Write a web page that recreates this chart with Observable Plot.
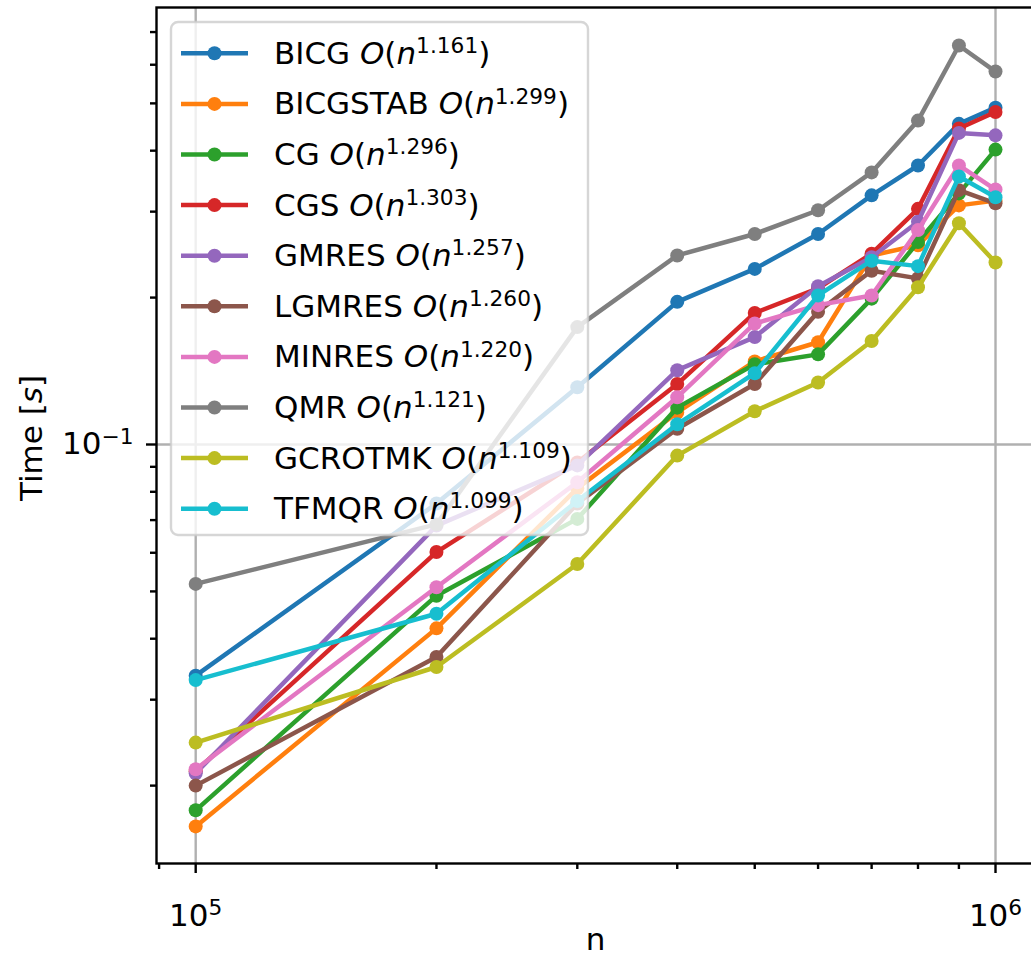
<!DOCTYPE html>
<html><head><meta charset="utf-8">
<script src="https://cdn.jsdelivr.net/npm/d3@7"></script>
<script src="https://cdn.jsdelivr.net/npm/@observablehq/plot@0.6"></script>
<style>
html,body{margin:0;padding:0;overflow:hidden;background:#fff;}
#wrap{position:relative;width:1031px;height:957px;overflow:hidden;}
#wrap svg.plot{position:absolute;left:0;top:0;max-width:none !important;}
#legend{position:absolute;left:0;top:0;pointer-events:none;}
</style></head><body><div id="wrap"></div>
<script>
// ---- data ----
const n = [1e5, 2e5, 3e5, 4e5, 5e5, 6e5, 7e5, 8e5, 9e5, 1e6];
const solvers = ["BICG", "BICGSTAB", "CG", "CGS", "GMRES", "LGMRES", "MINRES", "QMR", "GCROTMK", "TFMQR"];
const exponents = ["1.161", "1.299", "1.296", "1.303", "1.257", "1.260", "1.220", "1.121", "1.109", "1.099"];
const colors = ["#1f77b4", "#ff7f0e", "#2ca02c", "#d62728", "#9467bd", "#8c564b", "#e377c2", "#7f7f7f", "#bcbd22", "#17becf"];

const tBICG     = [0.0336, 0.0757, 0.131, 0.196, 0.229, 0.270, 0.324, 0.373, 0.454, 0.490];
const tBICGSTAB = [0.0165, 0.0420, 0.0813, 0.1163, 0.148, 0.162, 0.244, 0.256, 0.309, 0.316];
const tCG       = [0.0178, 0.0490, 0.0704, 0.119, 0.146, 0.153, 0.199, 0.260, 0.327, 0.402];
const tCGS      = [0.0214, 0.0602, 0.0919, 0.133, 0.186, 0.209, 0.246, 0.304, 0.444, 0.480];
const tGMRES    = [0.0212, 0.0682, 0.0906, 0.142, 0.166, 0.211, 0.242, 0.286, 0.435, 0.430];
const tLGMRES   = [0.0200, 0.0367, 0.0757, 0.1077, 0.133, 0.187, 0.227, 0.219, 0.332, 0.312];
const tMINRES   = [0.0216, 0.0510, 0.0837, 0.125, 0.177, 0.193, 0.202, 0.275, 0.373, 0.333];
const tQMR      = [0.0518, 0.0686, 0.174, 0.244, 0.270, 0.302, 0.361, 0.461, 0.657, 0.581];
const tGCROTMK  = [0.0245, 0.0350, 0.0569, 0.0949, 0.117, 0.134, 0.163, 0.210, 0.284, 0.236];
const tTFMQR    = [0.0329, 0.0450, 0.0766, 0.110, 0.140, 0.202, 0.238, 0.232, 0.354, 0.321];

const times = [tBICG, tBICGSTAB, tCG, tCGS, tGMRES, tLGMRES, tMINRES, tQMR, tGCROTMK, tTFMQR];

const xMajor = [1e5, 1e6];
const xMinor = [9e4, 2e5, 3e5, 4e5, 5e5, 6e5, 7e5, 8e5, 9e5];
const yMajor = [0.1];
const yMinor = [0.02, 0.03, 0.04, 0.05, 0.06, 0.07, 0.08, 0.09, 0.2, 0.3, 0.4, 0.5, 0.6, 0.7];
const xTickText = {100000: "10^5", 1000000: "10^6"};
const yTickText = {0.1: "10^\u22121"};

// ---- table ----
const table = solvers.flatMap((s, i) => n.map((x, j) => ({solver: s, n: x, t: times[i][j]})));

const seriesMarks = solvers.flatMap((s, i) => {
  const d = table.filter(r => r.solver === s);
  return [
    Plot.line(d, {x: "n", y: "t", stroke: colors[i], strokeWidth: 4.5}),
    Plot.dot(d, {x: "n", y: "t", fill: colors[i], r: 7})
  ];
});

const gridStyle = {stroke: "#b0b0b0", strokeOpacity: 1, strokeWidth: 2.4};
const FS = "31px";

const chart = Plot.plot({
  width: 1040, height: 957,
  marginLeft: 156, marginRight: 5, marginTop: 7, marginBottom: 94,
  style: {fontFamily: "DejaVu Sans, sans-serif", fontSize: FS, color: "#000", background: "#fff", overflow: "visible", maxWidth: "none"},
  x: {type: "log", domain: [Math.pow(10, 4.951), Math.pow(10, 6.05)]},
  y: {type: "log", domain: [0.01385, 0.786]},
  marks: [
    Plot.gridX(xMajor, gridStyle),
    Plot.gridY(yMajor, gridStyle),
    ...seriesMarks,
    Plot.axisX(xMinor, {tickSize: 6, strokeWidth: 2.4, tickFormat: () => "", label: null}),
    Plot.axisX(xMajor, {tickSize: 10, tickPadding: 30, strokeWidth: 2.4, tickFormat: d => xTickText[d], label: null}),
    Plot.axisY(yMinor, {tickSize: 6, strokeWidth: 2.4, tickFormat: () => "", label: null}),
    Plot.axisY(yMajor, {tickSize: 10, tickPadding: 13, strokeWidth: 2.4, tickFormat: d => yTickText[d], label: null}),
    Plot.frame({stroke: "#000", strokeWidth: 2.4})
  ]
});
chart.classList.add("plot");
chart.style.maxWidth = "none";
document.getElementById("wrap").appendChild(chart);

// superscripts in tick labels
const svg = d3.select(chart);
svg.selectAll("text").each(function() {
  const m = (this.textContent || "").match(/^10\^(.+)$/);
  if (m) {
    const sel = d3.select(this);
    sel.text("10");
    sel.append("tspan").attr("font-size", "0.7em").attr("dy", "-0.5em").text(m[1]);
  }
});

// axis titles
const yl = svg.append("text")
  .attr("transform", "translate(42,438) rotate(-90)")
  .attr("text-anchor", "middle")
  .attr("fill", "#000");
yl.append("tspan").text("Time [");
yl.append("tspan").attr("font-style", "italic").text("s");
yl.append("tspan").text("]");
svg.append("text")
  .attr("x", 595.5).attr("y", 950)
  .attr("text-anchor", "middle")
  .attr("fill", "#000")
  .text("n");

// legend overlay
const leg = d3.select("#wrap").append("svg")
  .attr("id", "legend")
  .attr("width", 1031).attr("height", 957)
  .style("font-family", "DejaVu Sans, sans-serif")
  .style("font-size", FS);
leg.append("rect")
  .attr("x", 171).attr("y", 22).attr("width", 417).attr("height", 513)
  .attr("rx", 7).attr("ry", 7)
  .attr("fill", "#fff").attr("fill-opacity", 0.8)
  .attr("stroke", "#cccccc").attr("stroke-opacity", 0.8).attr("stroke-width", 2.4);
solvers.forEach((s, i) => {
  const cy = 53.3 + 50.6 * i;
  leg.append("line").attr("x1", 181).attr("x2", 248).attr("y1", cy).attr("y2", cy)
    .attr("stroke", colors[i]).attr("stroke-width", 4.5);
  leg.append("circle").attr("cx", 214.5).attr("cy", cy).attr("r", 7).attr("fill", colors[i]);
  const t = leg.append("text").attr("x", 274).attr("y", cy + 10.5).attr("fill", "#000");
  t.append("tspan").text(s + " ");
  t.append("tspan").attr("font-style", "italic").text("O");
  t.append("tspan").text("(");
  t.append("tspan").attr("font-style", "italic").text("n");
  t.append("tspan").attr("font-size", "0.7em").attr("dy", "-0.5em").text(exponents[i]);
  t.append("tspan").attr("dy", "0.35em").text(")");
});
</script></body></html>
